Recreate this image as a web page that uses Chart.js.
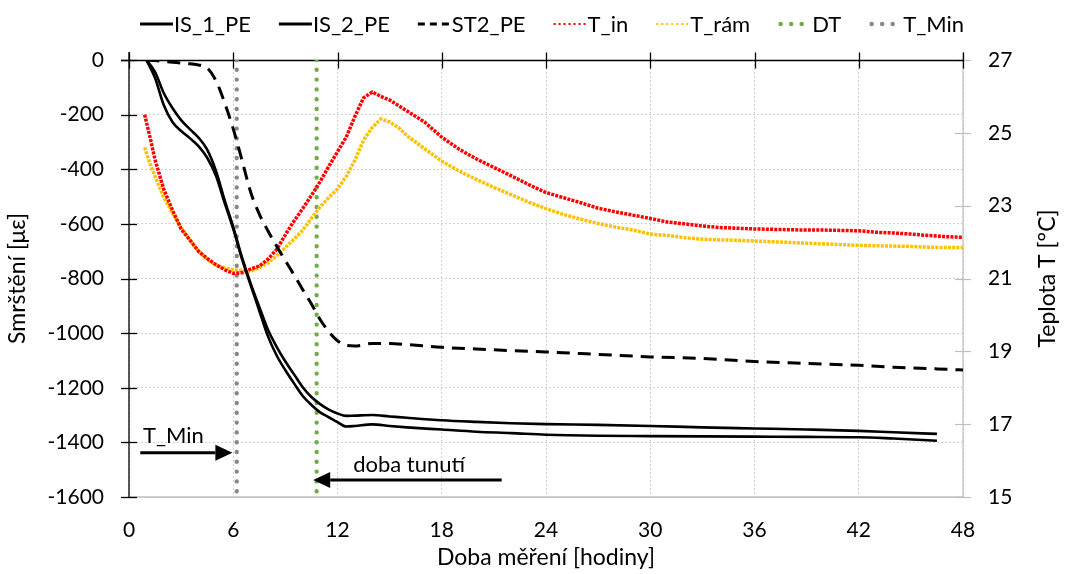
<!DOCTYPE html>
<html>
<head>
<meta charset="utf-8">
<script src="https://cdn.jsdelivr.net/npm/chart.js@4/dist/chart.umd.min.js"></script>
<style>
  html, body { margin: 0; padding: 0; background: #fff; }
  #wrap { width: 1066px; height: 574px; position: relative; }
</style>
</head>
<body>
<div id="wrap"><canvas id="chart" width="1066" height="574"></canvas></div>
<script>
// ---- strain series (µε) against measuring time (hours) ----
const strainHours = [1, 1.5, 2, 2.5, 3, 3.5, 4, 4.5, 5, 5.5,
  6, 6.5, 7, 7.5, 8, 8.5, 9, 9.5, 10, 10.5,
  11, 11.5, 12, 12.5, 13, 14, 15, 16, 18, 20,
  22, 24, 27, 30, 33, 36, 39, 42, 44, 46.5, 48];
const is1 = [0, -44, -121, -176, -220, -253, -284, -328, -405, -512,
  -612, -722, -818, -904, -988, -1050, -1104, -1151, -1198, -1234,
  -1260, -1280, -1294, -1303, -1302, -1300, -1305, -1310, -1319, -1325,
  -1330, -1333, -1336, -1340, -1345, -1349, -1353, -1358, -1363, -1369, null];
const is2 = [0, -66, -165, -227, -260, -286, -315, -358, -423, -522,
  -618, -728, -824, -918, -1012, -1082, -1136, -1184, -1230, -1263,
  -1290, -1308, -1326, -1342, -1340, -1334, -1340, -1345, -1353, -1361,
  -1366, -1372, -1376, -1377, -1378, -1379, -1380, -1381, -1386, -1394, null];
const st2 = [0, -2, -5, -8, -11, -14, -18, -29, -75, -156,
  -252, -366, -483, -564, -626, -682, -735, -787, -841, -893,
  -950, -995, -1028, -1045, -1047, -1038, -1038, -1042, -1052, -1058,
  -1064, -1069, -1078, -1087, -1093, -1104, -1111, -1118, -1125, -1131, -1135];

// ---- temperature series (°C) ----
const tempHours = [0.9, 1.2, 1.5, 2, 2.5, 3, 3.5, 4, 4.5, 5,
  5.5, 6, 6.5, 7, 7.5, 8, 8.5, 9, 9.5, 10,
  10.5, 11, 11.5, 12, 12.5, 13, 13.5, 14, 14.5, 15,
  15.5, 16, 17, 18, 19, 20, 21, 22, 23, 24,
  25, 26, 27, 28, 29, 30, 31, 32, 33, 34,
  35, 36, 37, 38, 39, 40, 41, 42, 43, 44,
  45, 46, 47, 48];
const tIn = [25.5, 24.9, 24.26, 23.45, 22.88, 22.36, 22.06, 21.75, 21.55, 21.38,
  21.24, 21.14, 21.16, 21.26, 21.34, 21.53, 21.8, 22.2, 22.58, 22.92,
  23.28, 23.66, 24.08, 24.48, 24.88, 25.45, 25.96, 26.12, 26.0, 25.9,
  25.75, 25.6, 25.3, 24.88, 24.55, 24.28, 24.05, 23.82, 23.58, 23.36,
  23.22, 23.08, 22.93, 22.83, 22.74, 22.65, 22.55, 22.5, 22.44, 22.4,
  22.38, 22.36, 22.35, 22.34, 22.33, 22.33, 22.32, 22.31, 22.27, 22.25,
  22.22, 22.18, 22.15, 22.13];
const tRam = [24.6, 24.17, 23.8, 23.23, 22.8, 22.4, 22.06, 21.75, 21.52, 21.37,
  21.29, 21.24, 21.22, 21.2, 21.3, 21.43, 21.62, 21.85, 22.08, 22.33,
  22.65, 22.97, 23.22, 23.46, 23.8, 24.25, 24.8, 25.15, 25.38, 25.3,
  25.15, 24.92, 24.57, 24.22, 23.95, 23.72, 23.5, 23.3, 23.1, 22.92,
  22.76, 22.63, 22.51, 22.41, 22.33, 22.22, 22.18, 22.12, 22.08, 22.06,
  22.05, 22.03, 22.01, 21.99, 21.97, 21.95, 21.93, 21.91, 21.9, 21.89,
  21.88, 21.86, 21.85, 21.85];

// ---- vertical markers: end of hardening (DT) and minimum temperature (T_Min) ----
const dtHours = [10.8, 10.8];
const tMinHours = [6.2, 6.2];
const markerSpan = [0, -1590];

// ---- axis ticks ----
const hourTicks = [0, 6, 12, 18, 24, 30, 36, 42, 48];
const strainTicks = [0, -200, -400, -600, -800, -1000, -1200, -1400, -1600];
const tempTicks = [15, 17, 19, 21, 23, 25, 27];

// ---- annotation arrows ----
const tMinArrowHours = [0.65, 5.95];
const tMinArrowLevel = -1438;
const dtArrowHours = [21.45, 10.6];
const dtArrowLevel = -1538;

const FONT = 'Lato, "Open Sans", "DejaVu Sans", sans-serif';
const TICK_SIZE = 21;
const TITLE_SIZE = 23;
const LEGEND_SIZE = 22;
const NOTE_SIZE = 22;

const pts = (xs, ys) => xs.map((x, i) => ({ x: x, y: ys[i] }));

const datasets = [
  { label: 'IS_1_PE', data: pts(strainHours, is1), yAxisID: 'y', borderColor: '#000', borderWidth: 2.6,
    cubicInterpolationMode: 'monotone', legendDash: [], legendWidth: 3 },
  { label: 'IS_2_PE', data: pts(strainHours, is2), yAxisID: 'y', borderColor: '#000', borderWidth: 2.6,
    cubicInterpolationMode: 'monotone', legendDash: [], legendWidth: 3 },
  { label: 'ST2_PE', data: pts(strainHours, st2), yAxisID: 'y', borderColor: '#000', borderWidth: 3,
    borderDash: [13, 8], cubicInterpolationMode: 'monotone', legendDash: [7, 5], legendWidth: 3 },
  { label: 'T_in', data: pts(tempHours, tIn), yAxisID: 'yT', borderColor: '#ff0000', borderWidth: 3.5,
    borderDash: [3, 1.2], legendDash: [2, 3], legendWidth: 2 },
  { label: 'T_rám', data: pts(tempHours, tRam), yAxisID: 'yT', borderColor: '#ffc000', borderWidth: 3.5,
    borderDash: [3, 1.2], legendDash: [2, 3], legendWidth: 2 },
  { label: 'DT', data: pts(dtHours, markerSpan), yAxisID: 'y', borderColor: '#70ad47', borderWidth: 4.4,
    borderDash: [0, 9.8], borderCapStyle: 'round', legendDash: [0, 10.5], legendWidth: 4.5, legendCap: 'round' },
  { label: 'T_Min', data: pts(tMinHours, markerSpan), yAxisID: 'y', borderColor: '#888888', borderWidth: 4.4,
    borderDash: [0, 9.8], borderCapStyle: 'round', legendDash: [0, 10.5], legendWidth: 4.5, legendCap: 'round' }
];
datasets.forEach(d => { d.pointRadius = 0; d.pointHoverRadius = 0; d.fill = false; });

// Draws axis lines with crossing tick marks, the legend, arrows and the right-hand title.
const decor = {
  id: 'decor',
  beforeDatasetsDraw(chart) {
    const { ctx, chartArea: a, scales } = chart;
    const x = scales.x, y = scales.y, yT = scales.yT;
    ctx.save();
    // bottom frame line
    ctx.strokeStyle = '#bfbfbf';
    ctx.lineWidth = 1.5;
    ctx.beginPath(); ctx.moveTo(a.left, a.bottom); ctx.lineTo(a.right, a.bottom); ctx.stroke();
    // right (temperature) axis
    ctx.lineWidth = 1.2;
    ctx.beginPath(); ctx.moveTo(a.right, a.top - 8); ctx.lineTo(a.right, a.bottom); ctx.stroke();
    tempTicks.forEach(t => {
      const py = Math.round(yT.getPixelForValue(t)) + 0.5;
      ctx.beginPath(); ctx.moveTo(a.right - 8, py); ctx.lineTo(a.right + 8, py); ctx.stroke();
    });
    // left (strain) axis
    ctx.strokeStyle = '#000';
    ctx.lineWidth = 1.3;
    ctx.beginPath(); ctx.moveTo(a.left, a.top - 8); ctx.lineTo(a.left, a.bottom); ctx.stroke();
    strainTicks.forEach(v => {
      const py = Math.round(y.getPixelForValue(v)) + 0.5;
      ctx.beginPath(); ctx.moveTo(a.left - 8, py); ctx.lineTo(a.left + 8, py); ctx.stroke();
    });
    // hour axis crossing the strain axis at zero (top edge)
    const y0 = Math.round(y.getPixelForValue(0)) + 0.5;
    ctx.beginPath(); ctx.moveTo(a.left - 8, y0); ctx.lineTo(a.right, y0); ctx.stroke();
    hourTicks.forEach(h => {
      const px = Math.round(x.getPixelForValue(h)) + 0.5;
      ctx.beginPath(); ctx.moveTo(px, y0 - 8); ctx.lineTo(px, y0 + 8); ctx.stroke();
    });
    ctx.restore();
  },
  afterDraw(chart) {
    const { ctx, chartArea: a, scales } = chart;
    const x = scales.x, y = scales.y;
    ctx.save();
    ctx.font = LEGEND_SIZE + 'px ' + FONT;
    ctx.fillStyle = '#000';
    ctx.textBaseline = 'middle';

    // legend
    const sample = 33, textGap = 1, itemGap = 28, ly = 24;
    const items = chart.data.datasets;
    let total = 0;
    items.forEach((d, i) => {
      total += sample + textGap + ctx.measureText(d.label).width + (i < items.length - 1 ? itemGap : 0);
    });
    let lx = 552 - total / 2;
    items.forEach(d => {
      ctx.save();
      ctx.strokeStyle = d.borderColor;
      ctx.lineWidth = d.legendWidth;
      ctx.lineCap = d.legendCap || 'butt';
      ctx.setLineDash(d.legendDash);
      const inset = d.legendCap === 'round' ? 2.5 : 0;
      ctx.beginPath(); ctx.moveTo(lx + inset, ly); ctx.lineTo(lx + sample, ly); ctx.stroke();
      ctx.restore();
      lx += sample + textGap;
      ctx.textAlign = 'left';
      ctx.fillText(d.label, lx, ly + 1);
      lx += ctx.measureText(d.label).width + itemGap;
    });

    // arrows
    const arrow = (h0, h1, v) => {
      const x0 = x.getPixelForValue(h0), x1 = x.getPixelForValue(h1), py = y.getPixelForValue(v);
      const dir = Math.sign(x1 - x0), head = 17, half = 8;
      ctx.strokeStyle = '#000';
      ctx.lineWidth = 3;
      ctx.beginPath(); ctx.moveTo(x0, py); ctx.lineTo(x1 - dir * head, py); ctx.stroke();
      ctx.beginPath();
      ctx.moveTo(x1, py);
      ctx.lineTo(x1 - dir * head, py - half);
      ctx.lineTo(x1 - dir * head, py + half);
      ctx.closePath(); ctx.fill();
    };
    arrow(tMinArrowHours[0], tMinArrowHours[1], tMinArrowLevel);
    arrow(dtArrowHours[0], dtArrowHours[1], dtArrowLevel);

    ctx.textAlign = 'left';
    ctx.textBaseline = 'alphabetic';
    ctx.font = NOTE_SIZE + 'px ' + FONT;
    ctx.fillText('T_Min', x.getPixelForValue(0.8), y.getPixelForValue(-1402));
    ctx.fillText('doba tunutí', x.getPixelForValue(12.9), y.getPixelForValue(-1509));

    // right-hand axis title, reading bottom to top
    ctx.font = TITLE_SIZE + 'px ' + FONT;
    ctx.textAlign = 'center';
    ctx.textBaseline = 'middle';
    ctx.translate(1048, (a.top + a.bottom) / 2);
    ctx.rotate(-Math.PI / 2);
    ctx.fillText('Teplota T [°C]', 0, 0);
    ctx.restore();
  }
};

Chart.defaults.font.family = FONT;
Chart.defaults.font.size = TICK_SIZE;
Chart.defaults.color = '#000';

const gridDots = { display: false, dash: [2, 2] };

new Chart(document.getElementById('chart'), {
  type: 'line',
  data: { datasets: datasets },
  plugins: [decor],
  options: {
    responsive: false,
    animation: false,
    events: [],
    layout: { padding: { top: 60, left: 0, right: 0, bottom: 0 } },
    plugins: { legend: { display: false }, tooltip: { enabled: false } },
    scales: {
      x: {
        type: 'linear', position: 'bottom', min: 0, max: 48,
        afterBuildTicks: s => { s.ticks = hourTicks.map(v => ({ value: v })); },
        ticks: { padding: 21, maxRotation: 0, autoSkip: false, callback: v => String(v) },
        grid: { color: '#d0d0d0', lineWidth: 1, drawTicks: false },
        border: gridDots,
        title: { display: true, text: 'Doba měření [hodiny]', font: { size: TITLE_SIZE }, padding: { top: 0, bottom: 3 } },
        afterFit: s => { s.height = 77; }
      },
      y: {
        type: 'linear', position: 'left', min: -1600, max: 0,
        afterBuildTicks: s => { s.ticks = strainTicks.map(v => ({ value: v })); },
        ticks: { padding: 25, callback: v => String(v) },
        grid: { color: '#d0d0d0', lineWidth: 1, drawTicks: false },
        border: gridDots,
        title: { display: true, text: 'Smrštění [με]', font: { size: TITLE_SIZE }, padding: { top: 4, bottom: 0 } },
        afterFit: s => { s.width = 129; }
      },
      yT: {
        type: 'linear', position: 'right', min: 15, max: 27,
        afterBuildTicks: s => { s.ticks = tempTicks.map(v => ({ value: v })); },
        ticks: { padding: 25, callback: v => String(v) },
        grid: { drawOnChartArea: false, drawTicks: false },
        border: { display: false },
        afterFit: s => { s.width = 103; }
      }
    }
  }
});
</script>
</body>
</html>
